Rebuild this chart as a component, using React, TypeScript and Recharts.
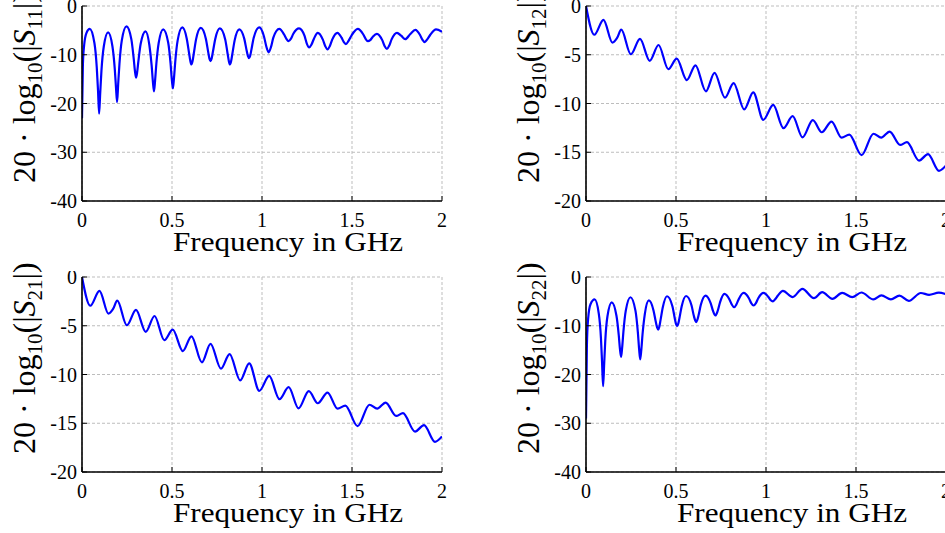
import { LineChart, Line, XAxis, YAxis, CartesianGrid } from "recharts";

// S11 (reflection, port 1)
const s11Freq = [
  0, 0.005, 0.012, 0.025, 0.043, 0.069, 0.082, 0.089, 0.095, 0.101, 0.108, 0.121,
  0.145, 0.169, 0.182, 0.189, 0.195, 0.201, 0.208, 0.221, 0.247, 0.274, 0.287, 0.294,
  0.3, 0.306, 0.313, 0.326, 0.353, 0.374, 0.387, 0.394, 0.4, 0.406, 0.413, 0.426,
  0.451, 0.479, 0.492, 0.499, 0.505, 0.511, 0.518, 0.531, 0.557, 0.582, 0.595, 0.602,
  0.608, 0.614, 0.621, 0.634, 0.66, 0.688, 0.701, 0.708, 0.714, 0.72, 0.727, 0.74,
  0.766, 0.796, 0.809, 0.816, 0.822, 0.828, 0.835, 0.848, 0.874, 0.902, 0.915, 0.922,
  0.928, 0.934, 0.941, 0.954, 0.985, 1.011, 1.024, 1.037, 1.05, 1.063, 1.096, 1.122,
  1.135, 1.148, 1.161, 1.174, 1.206, 1.236, 1.249, 1.262, 1.275, 1.288, 1.31, 1.338,
  1.351, 1.364, 1.377, 1.39, 1.419, 1.442, 1.454, 1.466, 1.48, 1.498, 1.532, 1.562,
  1.575, 1.588, 1.601, 1.614, 1.638, 1.668, 1.681, 1.694, 1.707, 1.72, 1.75, 1.773,
  1.796, 1.824, 1.852, 1.878, 1.891, 1.904, 1.917, 1.935, 1.967, 2.0,
];
const s11Db = [
  -23, -12, -8, -5.5, -4.7, -7.6, -12.6, -17.3, -22.1, -18.0, -13.3, -8.3,
  -5.4, -8.25, -12.9, -16.8, -19.7, -16.0, -11.9, -7.1, -4.2, -6.8, -10.7, -13.3,
  -14.7, -13.7, -11.4, -7.75, -5.2, -7.95, -12.25, -15.55, -17.5, -15.3, -11.9, -7.6,
  -4.8, -7.55, -11.8, -15.05, -16.9, -14.8, -11.45, -7.15, -4.4, -6.7, -9.7, -11.3,
  -12.0, -11.35, -9.75, -6.8, -4.5, -6.7, -9.4, -10.8, -11.3, -10.8, -9.45, -6.8,
  -4.6, -6.9, -9.8, -11.35, -12.0, -11.4, -9.9, -7.05, -4.8, -6.8, -9.2, -10.3,
  -10.7, -10.25, -9.0, -6.5, -4.4, -6.25, -8.3, -9.5, -8.4, -6.5, -4.7, -5.8,
  -6.7, -7.2, -6.7, -5.7, -4.6, -6.1, -7.7, -8.5, -7.9, -6.75, -5.5, -6.9,
  -8.2, -8.9, -8.2, -6.9, -5.5, -6.5, -7.35, -7.8, -7.2, -6.0, -4.7, -5.8,
  -6.7, -7.2, -7.0, -6.4, -5.7, -7.0, -8.2, -8.8, -8.1, -6.85, -5.5, -6.1,
  -6.8, -5.75, -4.9, -5.95, -6.9, -7.4, -6.9, -5.9, -4.8, -5.3,
];

// S21 / S12 (transmission, both directions read the same)
const s21Freq = [
  0, 0.046, 0.097, 0.147, 0.172, 0.196, 0.249, 0.3, 0.354, 0.403, 0.457, 0.504,
  0.56, 0.608, 0.666, 0.714, 0.772, 0.82, 0.879, 0.929, 0.985, 1.04, 1.097, 1.148,
  1.203, 1.26, 1.31, 1.364, 1.42, 1.463, 1.531, 1.597, 1.64, 1.687, 1.745, 1.783,
  1.85, 1.9, 1.961, 2.0,
];
const s21Db = [
  0, -2.95, -1.42, -3.75, -3.3, -2.43, -4.95, -3.37, -5.62, -4.0, -6.48, -5.4,
  -7.6, -6.08, -8.75, -6.85, -9.4, -7.9, -10.6, -8.85, -11.68, -10.15, -12.53, -11.3,
  -13.47, -11.7, -12.95, -11.85, -13.5, -13.2, -15.3, -13.1, -13.5, -12.88, -14.25, -13.97,
  -15.85, -15.2, -16.9, -16.35,
];
const s12Freq = s21Freq;
const s12Db = s21Db;

// S22 (reflection, port 2)
const s22Freq = [
  0, 0.005, 0.012, 0.025, 0.048, 0.071, 0.083, 0.089, 0.095, 0.101, 0.107, 0.119,
  0.143, 0.169, 0.182, 0.189, 0.195, 0.201, 0.208, 0.221, 0.247, 0.275, 0.288, 0.295,
  0.301, 0.307, 0.314, 0.327, 0.349, 0.375, 0.388, 0.395, 0.401, 0.407, 0.414, 0.427,
  0.45, 0.48, 0.493, 0.5, 0.506, 0.512, 0.519, 0.532, 0.556, 0.586, 0.599, 0.606,
  0.612, 0.618, 0.625, 0.638, 0.664, 0.693, 0.706, 0.719, 0.732, 0.745, 0.769, 0.797,
  0.81, 0.823, 0.836, 0.849, 0.875, 0.905, 0.918, 0.931, 0.944, 0.957, 0.987, 1.012,
  1.025, 1.038, 1.051, 1.066, 1.094, 1.148, 1.202, 1.266, 1.312, 1.369, 1.423, 1.479,
  1.53, 1.597, 1.641, 1.694, 1.741, 1.793, 1.86, 1.906, 1.96, 2.0,
];
const s22Db = [
  -29, -14, -8.5, -5.6, -4.6, -7.5, -12.5, -17.3, -22.4, -17.8, -13.1, -8.1,
  -5.2, -7.9, -11.95, -14.9, -16.4, -14.45, -11.15, -6.9, -4.15, -6.95, -11.3, -14.75,
  -16.9, -15.05, -11.8, -7.55, -4.8, -6.85, -9.25, -10.35, -10.8, -10.25, -8.85, -6.15,
  -3.95, -6.0, -8.45, -9.65, -10.1, -9.65, -8.45, -5.95, -3.9, -5.8, -7.95, -8.85,
  -9.25, -8.85, -7.9, -5.7, -3.8, -5.4, -7.0, -7.9, -6.9, -5.15, -3.47, -4.6,
  -5.65, -6.2, -5.6, -4.5, -3.27, -4.35, -5.35, -5.85, -5.35, -4.35, -3.27, -4.05,
  -4.7, -5.0, -4.55, -3.8, -2.85, -4.12, -2.42, -4.34, -3.12, -4.48, -3.25, -4.12,
  -3.18, -4.6, -3.78, -4.6, -3.8, -4.9, -3.28, -3.65, -3.22, -3.5,
];

const freqTicks = [0, 0.5, 1, 1.5, 2];
const reflTicks = [-40, -30, -20, -10, 0];
const transTicks = [-20, -15, -10, -5, 0];

const FONT = '"Liberation Serif", "Times New Roman", serif';
const W = 480;
const H = 262;

function toRows(freq: number[], db: number[]) {
  return freq.map((f, i) => ({ f, v: db[i] }));
}

// tick text drawn by hand so the serif face sticks
function XTick(p: any) {
  return (
    <text x={p.x} y={p.y} dy="0.71em" textAnchor="middle" fontFamily={FONT} fontSize={20} fill="#000">
      {p.payload.value}
    </text>
  );
}
function YTick(p: any) {
  return (
    <text x={p.x} y={p.y} dy="0.355em" textAnchor="end" fontFamily={FONT} fontSize={20} fill="#000">
      {p.payload.value}
    </text>
  );
}

function Panel({ left, top, freq, db, yTicks, idx }: {
  left: number; top: number; freq: number[]; db: number[]; yTicks: number[]; idx: string;
}) {
  const data = toRows(freq, db);
  const domain = [yTicks[0], yTicks[yTicks.length - 1]];
  const blank = () => "";
  return (
    <div style={{ position: "absolute", left, top, width: W, height: H, fontFamily: FONT }}>
      <LineChart width={W} height={H} data={data} margin={{ top: 6, right: 38, bottom: 31, left: 22 }}>
        <CartesianGrid stroke="#bdbdbd" strokeDasharray="3 2" strokeWidth={1} horizontalValues={yTicks} verticalValues={freqTicks} />
        <XAxis
          dataKey="f"
          type="number"
          domain={[0, 2]}
          ticks={freqTicks}
          interval={0}
          height={30}
          allowDataOverflow
          axisLine={{ stroke: "#000", strokeWidth: 1.6 }}
          tickLine={{ stroke: "#000" }}
          tickSize={-5}
          tickMargin={17}
          tick={XTick}
        />
        <XAxis
          xAxisId="top"
          orientation="top"
          type="number"
          domain={[0, 2]}
          ticks={freqTicks}
          interval={0}
          height={0}
          axisLine={{ stroke: "#000", strokeWidth: 1.6 }}
          tickLine={{ stroke: "#000" }}
          tickSize={-5}
          tickFormatter={blank}
        />
        <YAxis
          type="number"
          domain={domain}
          ticks={yTicks}
          interval={0}
          width={60}
          allowDataOverflow
          axisLine={{ stroke: "#000", strokeWidth: 1.6 }}
          tickLine={{ stroke: "#000" }}
          tickSize={-5}
          tickMargin={10}
          tick={YTick}
        />
        <YAxis
          yAxisId="right"
          orientation="right"
          type="number"
          domain={domain}
          ticks={yTicks}
          interval={0}
          width={0}
          axisLine={{ stroke: "#000", strokeWidth: 1.6 }}
          tickLine={{ stroke: "#000" }}
          tickSize={-5}
          tickFormatter={blank}
        />
        <Line
          type="monotone"
          dataKey="v"
          stroke="#0000ff"
          strokeWidth={2.2}
          dot={false}
          activeDot={false}
          isAnimationActive={false}
        />
      </LineChart>
      <svg width={W} height={H} style={{ position: "absolute", left: 0, top: 0, pointerEvents: "none", overflow: "visible" }}>
        <text x={288} y={251} textAnchor="middle" fontFamily={FONT} fontSize={27} fill="#000"
          textLength={230} lengthAdjust="spacingAndGlyphs">
          Frequency in GHz
        </text>
        <text transform="translate(35,183) rotate(-90)" fontFamily={FONT} fontSize={32} fill="#000">
          {"20 \u00b7 log"}
          <tspan fontSize={21} dy={7}>10</tspan>
          <tspan dy={-7}>(|</tspan>
          <tspan fontStyle="italic">S</tspan>
          <tspan fontSize={21} dy={7}>{idx}</tspan>
          <tspan dy={-7}>|)</tspan>
        </text>
      </svg>
    </div>
  );
}

export default function App() {
  return (
    <div style={{ position: "absolute", left: 0, top: 0, width: 945, height: 533, overflow: "hidden", background: "#fff", fontFamily: FONT }}>
      <Panel left={0} top={0} freq={s11Freq} db={s11Db} yTicks={reflTicks} idx="11" />
      <Panel left={504} top={0} freq={s12Freq} db={s12Db} yTicks={transTicks} idx="12" />
      <Panel left={0} top={270.5} freq={s21Freq} db={s21Db} yTicks={transTicks} idx="21" />
      <Panel left={504} top={270.5} freq={s22Freq} db={s22Db} yTicks={reflTicks} idx="22" />
    </div>
  );
}
